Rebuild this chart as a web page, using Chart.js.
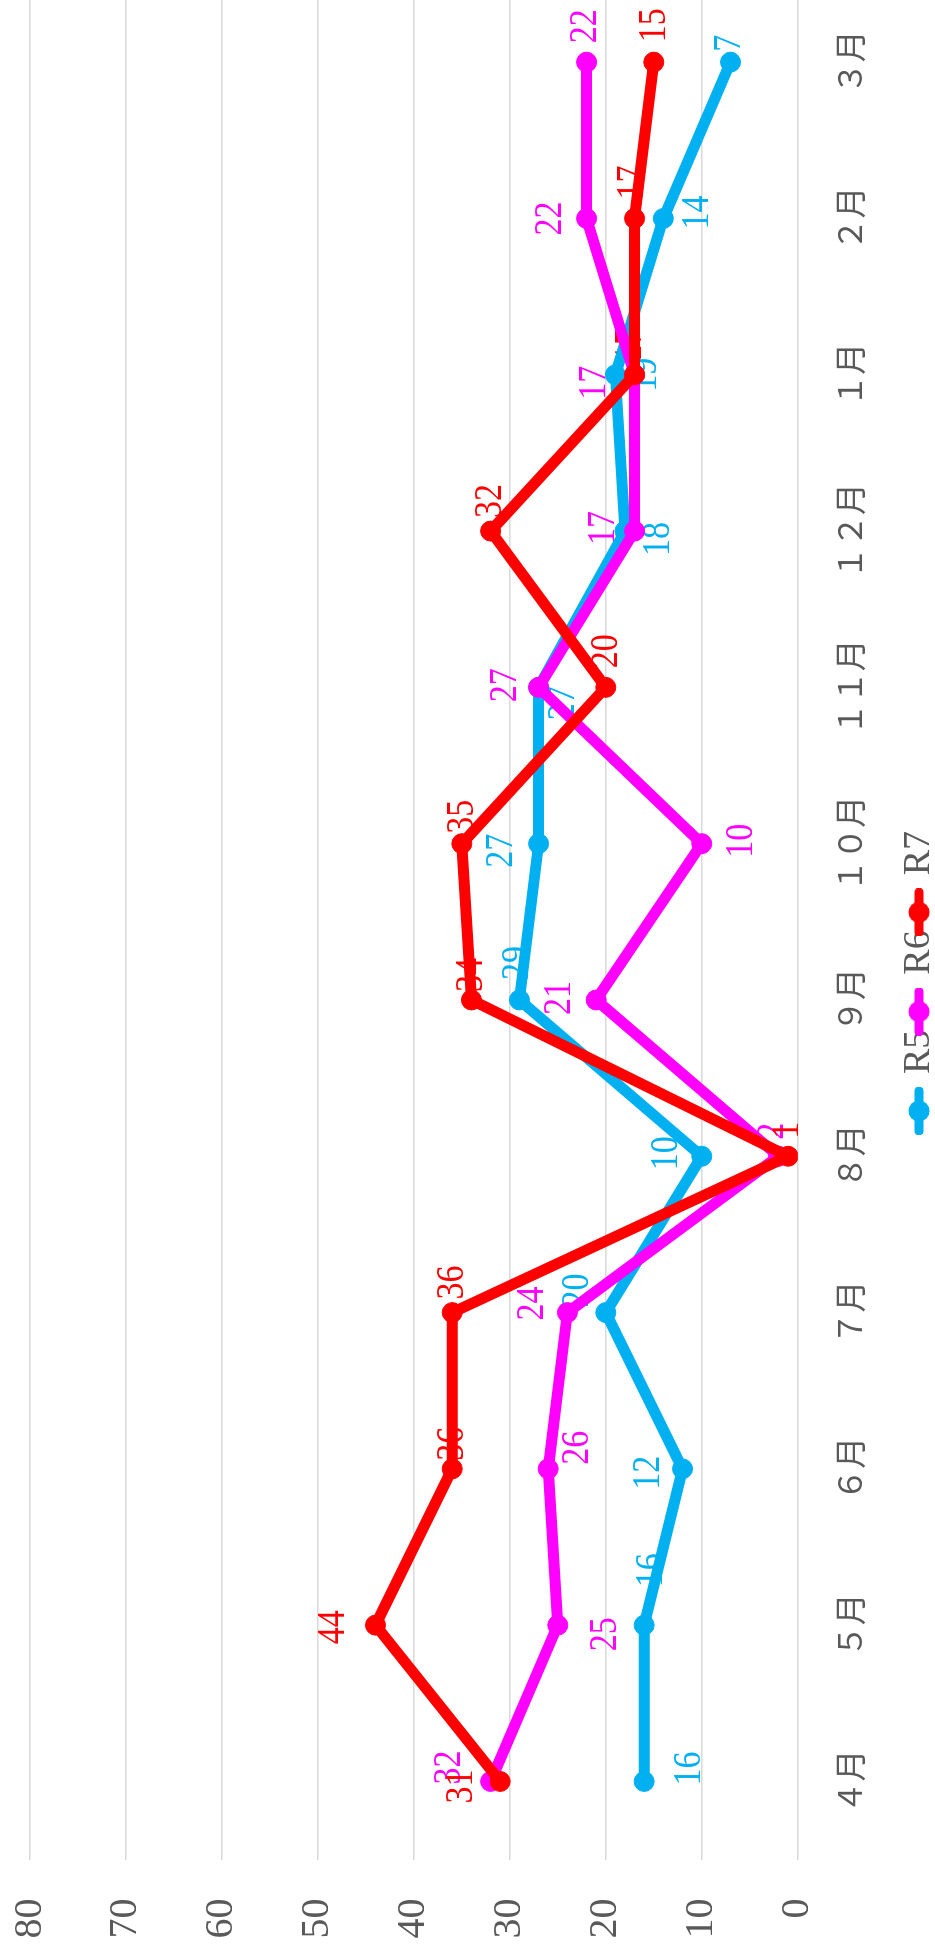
<!DOCTYPE html>
<html><head><meta charset="utf-8">
<script src="https://cdn.jsdelivr.net/npm/chart.js@4.4.1/dist/chart.umd.min.js"></script>
<style>
html,body{margin:0;padding:0;width:935px;height:1948px;overflow:hidden;background:#fff;}
#wrap{position:absolute;left:0;top:0;width:2014px;height:948px;transform-origin:0 0;transform:translate(0px,1987px) rotate(-90deg);}
canvas{display:block;}
</style></head><body>
<div id="wrap"><canvas id="c" width="2014" height="948"></canvas></div>
<script>
// ---- data ----
const categories = ['４月','５月','６月','７月','８月','９月','１０月','１１月','１２月','１月','２月','３月'];
const seriesNames = ['R5','R6','R7'];
const r5Values = [16,16,12,20,10,29,27,27,18,19,14,7];
const r6Values = [32,25,26,24,2,21,10,27,17,17,22,22];
const r7Values = [31,44,36,36,1,34,35,20,32,17,17,15];
const yTicks = [0,10,20,30,40,50,60,70,80];

// ---- styling ----
const seriesColors = ['#00B0F0','#FF00FF','#FF0000'];
// data label placement [dx, dy] relative to the point (chart px, before rotation)
const r5LabelPos = [[13,45],[55,7],[-4,-34],[22,-29],[3,-36],[37,-2],[-7,-37],[-16,25],[-8,33],[0,30],[6,34],[19,-1]];
const r6LabelPos = [[14,-41],[-9,47],[21,29],[9,-35],[25,-6],[2,-37],[3,39],[2,-33],[3,-31],[-8,-40],[0,-36],[36,-1]];
const r7LabelPos = [[-5,-39],[-2,-42],[25,0],[30,0],[26,-1],[25,0],[27,0],[36,0],[30,0],[30,-4],[36,-2],[37,0]];
const labelPositions = [r5LabelPos, r6LabelPos, r7LabelPos];
const FONT = '"Liberation Serif", "Noto Sans CJK JP", serif';
const TEXT_GRAY = '#595959';
const CLEAR = 'rgba(0,0,0,0)';

function legendMarker(color){
  const c = document.createElement('canvas');
  c.width = 48; c.height = 22;
  const x = c.getContext('2d');
  x.strokeStyle = color; x.lineWidth = 9; x.lineCap = 'round';
  x.beginPath(); x.moveTo(4,11); x.lineTo(44,11); x.stroke();
  x.fillStyle = color; x.beginPath(); x.arc(24,11,10.5,0,Math.PI*2); x.fill();
  return c;
}

function draw(){
  const markers = seriesColors.map(legendMarker);
  const labelPlugin = {
    id: 'valueLabels',
    beforeDatasetsDraw(chart){
      const ctx = chart.ctx;
      chart.data.datasets.forEach((ds, i) => {
        const meta = chart.getDatasetMeta(i);
        meta.data.forEach((pt, j) => {
          const off = labelPositions[i][j];
          ctx.save();
          ctx.font = '41px ' + FONT;
          ctx.fillStyle = ds.borderColor;
          ctx.textAlign = 'center';
          ctx.textBaseline = 'middle';
          ctx.translate(pt.x + off[0], pt.y + off[1]);
          ctx.scale(0.83, 1);
          ctx.fillText(String(ds.data[j]), 0, 0);
          ctx.restore();
        });
      });
    }
  };

  const seriesValues = [r5Values, r6Values, r7Values];
  const datasets = seriesNames.map((name, i) => ({
    label: name,
    data: seriesValues[i],
    borderColor: seriesColors[i],
    backgroundColor: seriesColors[i],
    pointBackgroundColor: seriesColors[i],
    pointBorderColor: seriesColors[i],
    borderWidth: 11,
    pointRadius: 10,
    pointBorderWidth: 1,
    tension: 0,
    borderJoinStyle: 'round',
    order: 2 - i
  }));

  new Chart(document.getElementById('c'), {
    type: 'line',
    data: { labels: categories, datasets },
    options: {
      responsive: false,
      maintainAspectRatio: false,
      devicePixelRatio: 1,
      animation: false,
      layout: { padding: { top: 30, left: 0, right: 0, bottom: 0 } },
      plugins: {
        tooltip: { enabled: false },
        legend: {
          position: 'bottom',
          labels: {
            usePointStyle: true,
            pointStyleWidth: 36,
            padding: 0,
            color: TEXT_GRAY,
            font: { family: FONT, size: 38 },
            sort: (a, b) => a.datasetIndex - b.datasetIndex,
            generateLabels(chart){
              const items = Chart.defaults.plugins.legend.labels.generateLabels(chart);
              items.forEach(it => { it.pointStyle = markers[it.datasetIndex]; });
              return items;
            }
          }
        }
      },
      scales: {
        x: {
          offset: true,
          grid: { display: true, drawOnChartArea: false, color: CLEAR, tickColor: CLEAR, drawTicks: true, tickLength: 33 },
          border: { display: false },
          ticks: { color: TEXT_GRAY, padding: 0, maxRotation: 0, autoSkip: false,
                   font: { family: '"Noto Sans CJK JP", sans-serif', size: 32 } },
          afterFit(scale){ scale.height = 102.3; }
        },
        y: {
          min: yTicks[0],
          max: yTicks[yTicks.length - 1],
          afterBuildTicks(scale){ scale.ticks = yTicks.map(v => ({ value: v })); },
          grid: { color: '#D9D9D9', lineWidth: 1.5, drawTicks: true, tickLength: 39, tickColor: CLEAR },
          border: { display: false },
          ticks: { color: TEXT_GRAY, padding: 0, font: { family: FONT, size: 40 } },
          afterFit(scale){ scale.width = 127.4; }
        }
      }
    },
    plugins: [labelPlugin]
  });
}

Promise.all([
  document.fonts.load('40px "Liberation Serif"'),
  document.fonts.load('32px "Noto Sans CJK JP"', '月')
]).then(draw, draw);
</script>
</body></html>
